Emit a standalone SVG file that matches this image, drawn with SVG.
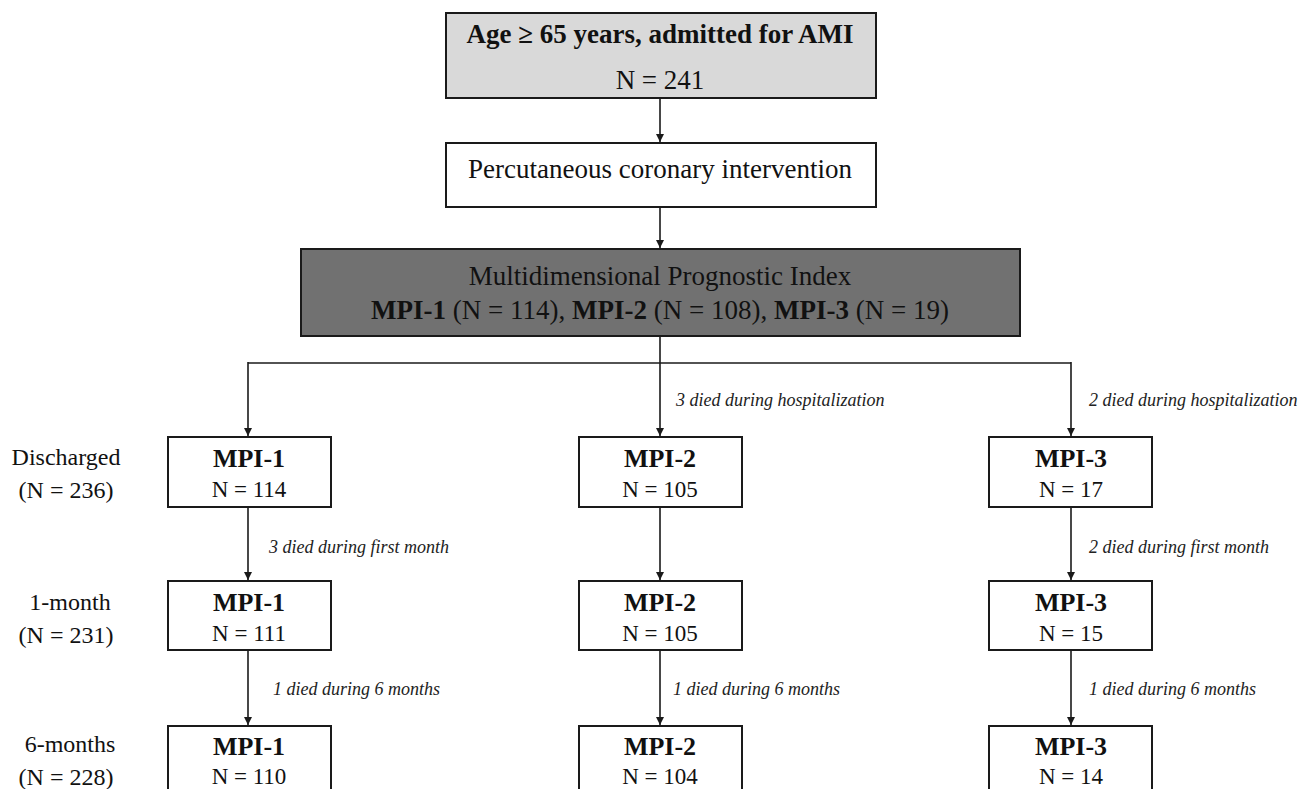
<svg xmlns="http://www.w3.org/2000/svg" width="1298" height="789" viewBox="0 0 1298 789">
<style>
.t{font-family:"Liberation Serif","Times New Roman",serif;fill:#111}
.b{font-weight:bold}
.box{fill:#fff;stroke:#1a1a1a;stroke-width:2}
.lbl{font-family:"Liberation Serif","Times New Roman",serif;font-style:italic;font-size:18px;fill:#222}
.ln{stroke:#1a1a1a;stroke-width:1.6;fill:none}
.h{font-size:26px;font-weight:bold}
.n{font-size:23px}
.side{font-size:24px}
</style>
<defs>
<marker id="ah" viewBox="0 0 10 10" refX="10" refY="5" markerWidth="8" markerHeight="8" markerUnits="userSpaceOnUse" orient="auto">
<path d="M0,0 L10,5 L0,10 z" fill="#1a1a1a"/>
</marker>
</defs>
<rect width="1298" height="789" fill="#fff"/>
<g id="connectors">
<line class="ln" x1="660" y1="98" x2="660" y2="142" marker-end="url(#ah)"/>
<line class="ln" x1="660" y1="207" x2="660" y2="248" marker-end="url(#ah)"/>
<line class="ln" x1="660" y1="336" x2="660" y2="436" marker-end="url(#ah)"/>
<polyline class="ln" points="248,363 1071,363"/>
<line class="ln" x1="248" y1="362" x2="248" y2="436" marker-end="url(#ah)"/>
<line class="ln" x1="1071" y1="362" x2="1071" y2="436" marker-end="url(#ah)"/>
<line class="ln" x1="248" y1="507" x2="248" y2="580" marker-end="url(#ah)"/>
<line class="ln" x1="660" y1="507" x2="660" y2="580" marker-end="url(#ah)"/>
<line class="ln" x1="1071" y1="507" x2="1071" y2="580" marker-end="url(#ah)"/>
<line class="ln" x1="248" y1="650" x2="248" y2="725" marker-end="url(#ah)"/>
<line class="ln" x1="660" y1="650" x2="660" y2="725" marker-end="url(#ah)"/>
<line class="ln" x1="1071" y1="650" x2="1071" y2="725" marker-end="url(#ah)"/>
<text class="lbl" x="676" y="406">3 died during hospitalization</text>
<text class="lbl" x="1089" y="406">2 died during hospitalization</text>
<text class="lbl" x="269" y="553">3 died during first month</text>
<text class="lbl" x="1089" y="553">2 died during first month</text>
<text class="lbl" x="273" y="695">1 died during 6 months</text>
<text class="lbl" x="673" y="695">1 died during 6 months</text>
<text class="lbl" x="1089" y="695">1 died during 6 months</text>
</g>
<g id="top">
<rect x="446" y="13" width="430" height="85" fill="#d9d9d9" stroke="#1a1a1a" stroke-width="2"/>
<text class="t b" x="660" y="43" font-size="27" text-anchor="middle">Age ≥ 65 years, admitted for AMI</text>
<text class="t" x="660" y="89" font-size="27" text-anchor="middle">N = 241</text>
</g>
<g id="pci">
<rect class="box" x="446" y="143" width="430" height="64"/>
<text class="t" x="660" y="178" font-size="27" text-anchor="middle">Percutaneous coronary intervention</text>
</g>
<g id="mpi">
<rect x="301" y="249" width="719" height="87" fill="#717171" stroke="#1a1a1a" stroke-width="2"/>
<text class="t" x="660" y="285" font-size="27" text-anchor="middle">Multidimensional Prognostic Index</text>
<text class="t" x="660" y="319" font-size="27" text-anchor="middle"><tspan font-weight="bold">MPI-1</tspan> (N = 114), <tspan font-weight="bold">MPI-2</tspan> (N = 108), <tspan font-weight="bold">MPI-3</tspan> (N = 19)</text>
</g>
<g id="rowlabels">
<text class="t side" x="66" y="465" text-anchor="middle">Discharged</text>
<text class="t side" x="66" y="498" text-anchor="middle">(N = 236)</text>
<text class="t side" x="70" y="610" text-anchor="middle">1-month</text>
<text class="t side" x="66" y="643" text-anchor="middle">(N = 231)</text>
<text class="t side" x="70" y="752" text-anchor="middle">6-months</text>
<text class="t side" x="66" y="785" text-anchor="middle">(N = 228)</text>
</g>
<g id="d1"><rect class="box" x="168" y="437" width="163" height="70"/><text class="t h" x="249" y="467" text-anchor="middle">MPI-1</text><text class="t n" x="249" y="497" text-anchor="middle">N = 114</text></g>
<g id="d2"><rect class="box" x="579" y="437" width="163" height="70"/><text class="t h" x="660" y="467" text-anchor="middle">MPI-2</text><text class="t n" x="660" y="497" text-anchor="middle">N = 105</text></g>
<g id="d3"><rect class="box" x="989" y="437" width="163" height="70"/><text class="t h" x="1071" y="467" text-anchor="middle">MPI-3</text><text class="t n" x="1071" y="497" text-anchor="middle">N = 17</text></g>
<g id="m1"><rect class="box" x="168" y="581" width="163" height="69"/><text class="t h" x="249" y="611" text-anchor="middle">MPI-1</text><text class="t n" x="249" y="641" text-anchor="middle">N = 111</text></g>
<g id="m2"><rect class="box" x="579" y="581" width="163" height="69"/><text class="t h" x="660" y="611" text-anchor="middle">MPI-2</text><text class="t n" x="660" y="641" text-anchor="middle">N = 105</text></g>
<g id="m3"><rect class="box" x="989" y="581" width="163" height="69"/><text class="t h" x="1071" y="611" text-anchor="middle">MPI-3</text><text class="t n" x="1071" y="641" text-anchor="middle">N = 15</text></g>
<g id="s1"><rect class="box" x="168" y="726" width="163" height="80"/><text class="t h" x="249" y="755" text-anchor="middle">MPI-1</text><text class="t n" x="249" y="784" text-anchor="middle">N = 110</text></g>
<g id="s2"><rect class="box" x="579" y="726" width="163" height="80"/><text class="t h" x="660" y="755" text-anchor="middle">MPI-2</text><text class="t n" x="660" y="784" text-anchor="middle">N = 104</text></g>
<g id="s3"><rect class="box" x="989" y="726" width="163" height="80"/><text class="t h" x="1071" y="755" text-anchor="middle">MPI-3</text><text class="t n" x="1071" y="784" text-anchor="middle">N = 14</text></g>
</svg>
